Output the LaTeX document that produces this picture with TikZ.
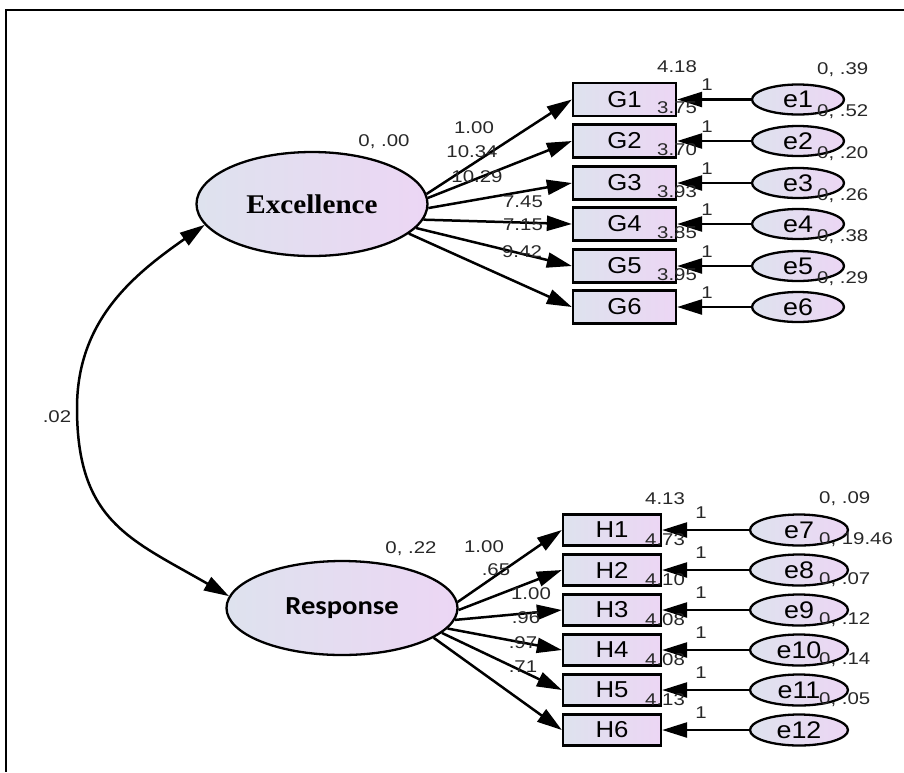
\documentclass[tikz,border=0pt]{standalone}
\usepackage{fontspec}
\setmainfont{Liberation Sans}
\newfontfamily\numfont[FakeStretch=1.2]{Liberation Sans}
\newfontfamily\itemfont[FakeStretch=1.12]{Liberation Sans}
\newfontfamily\excfont[FakeStretch=1.08]{Liberation Serif}
\newfontfamily\resfont[FakeStretch=1.1]{Carlito}
\usetikzlibrary{arrows.meta,shapes.geometric}

\definecolor{shadeL}{RGB}{222,226,238}
\definecolor{shadeR}{RGB}{236,214,244}
\definecolor{numgray}{RGB}{40,40,40}

\begin{document}
\begin{tikzpicture}[x=1pt, y=1pt,
    lat/.style={ellipse, draw, line width=2.3pt, left color=shadeL, right color=shadeR, inner sep=0pt, minimum width=231pt},
    obs/.style={draw, line width=2.3pt, left color=shadeL, right color=shadeR, inner sep=0pt, font=\fontsize{23}{23}\itemfont},
    err/.style={ellipse, draw, line width=2.3pt, left color=shadeL, right color=shadeR, inner sep=0pt, font=\fontsize{24}{24}\itemfont},
    num/.style={font=\fontsize{17}{17}\numfont, text=numgray, inner sep=0pt},
    load/.style={line width=2.5pt, -{Triangle[length=25pt,width=15pt]}},
    cov/.style={line width=2.5pt, {Triangle[length=25pt,width=15pt]}-{Triangle[length=25pt,width=15pt]}}
  ]
    \useasboundingbox (0,0) rectangle (904,-772);
    \draw[line width=2.5pt] (904,-10) -- (6,-10) -- (6,-772);

    % latent factors
    \node[lat, minimum height=104pt, font=\fontsize{27}{27}\excfont\bfseries] (exc) at (312,-204) {Excellence};
    \node[lat, minimum height=94pt, font=\fontsize{26}{26}\resfont\bfseries] (res) at (342,-608) {Response};
    \coordinate (covmid) at (77,-408);
    \draw[cov] (exc.191) to[out=215, in=90] (covmid) to[out=270, in=150, looseness=1.2] (res.174);

    % G items
    \foreach \i/\y/\a in {1/99.5/5, 2/141/3, 3/183/358, 4/224/352, 5/266/347, 6/307/343} {
      \node[obs, minimum width=103pt, minimum height=33pt] (g\i) at (624.5,-\y) {G\i};
      \node[err, minimum width=92pt, minimum height=30pt] (e\i) at (798,-\y) {e\i};
      \draw[load] (e\i) -- (g\i);
      \draw[load] (exc.\a) -- (g\i.west);
      \node[num] (gone\i) at (707,-\y+14.5) {1};
    }

    % H items
    \foreach \i/\j/\y/\a in {1/7/530/3, 2/8/570/359, 3/9/610/354, 4/10/650/349, 5/11/690/346, 6/12/730/342} {
      \node[obs, minimum width=98pt, minimum height=31pt] (h\i) at (612,-\y) {H\i};
      \node[err, minimum width=98pt, minimum height=31pt] (e\j) at (799,-\y) {e\j};
      \draw[load] (e\j) -- (h\i);
      \draw[load] (res.\a) -- (h\i.west);
      \node[num] (hone\i) at (701,-\y+17) {1};
    }

    % estimates
    \node[num] (gtop) at (677,-67) {4.18};
    \node[num, anchor=west] (etop) at (817,-70) {0, .39};
    \foreach \i/\y/\v/\w in {1/99.5/3.75/.52, 2/141/3.70/.20, 3/183/3.93/.26, 4/224/3.85/.38, 5/266/3.95/.29} {
      \node[num] (gm\i) at (677,-\y-8.5) {\v};
      \node[num, anchor=west] (gv\i) at (817,-\y-12.5) {0, \w};
    }
    \node[num] (htop) at (665,-499) {4.13};
    \node[num, anchor=west] (hvtop) at (819,-499) {0, .09};
    \foreach \i/\y/\v/\w in {1/530/4.73/19.46, 2/570/4.10/.07, 3/610/4.08/.12, 4/650/4.08/.14, 5/690/4.13/.05} {
      \node[num] (hm\i) at (665,-\y-10) {\v};
      \node[num, anchor=west] (hv\i) at (819,-\y-10) {0, \w};
    }

    \foreach \t/\x/\y [count=\k] in {1.00/474/128, 10.34/472/152, 10.29/477/177, 7.45/523/202, 7.15/523/225, 9.42/522/252}
      \node[num] (gl\k) at (\x,-\y) {\t};
    \foreach \t/\x/\y [count=\k] in {1.00/484/547, .65/496/570, 1.00/531/594, .96/526/618, .97/523/643, .71/523/667}
      \node[num] (hl\k) at (\x,-\y) {\t};

    \node[num] (excvar) at (384,-142) {0, .00};
    \node[num] (resvar) at (411,-549) {0, .22};
    \node[num] (covval) at (57,-417) {.02};
\end{tikzpicture}
\end{document}
